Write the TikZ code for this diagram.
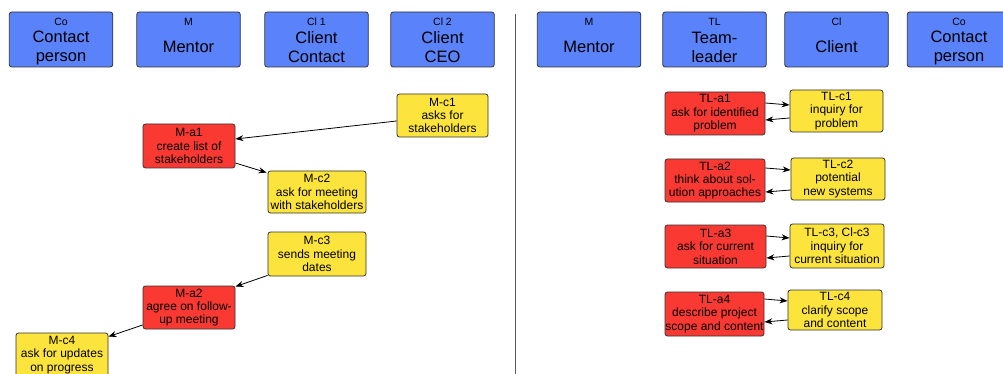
\documentclass[tikz,border=0pt]{standalone}
\usepackage{fontspec}
\setmainfont{Liberation Sans}
\usetikzlibrary{arrows.meta}
\definecolor{roleblue}{RGB}{90,130,250}
\definecolor{actred}{RGB}{250,58,50}
\definecolor{cliyellow}{RGB}{252,228,60}
\definecolor{edgegray}{RGB}{50,50,50}
\begin{document}
\begin{tikzpicture}[x=1pt,y=-1pt,
  box/.style={draw=edgegray, line width=0.8pt, rounded corners=2.5pt, inner sep=0pt,
    align=center, font=\fontsize{12}{13.4}\selectfont},
  rolebox/.style={box, fill=roleblue, minimum width=103.5pt, minimum height=55pt},
  roletag/.style={inner sep=0pt, font=\fontsize{10.5}{11}\selectfont},
  rolename/.style={inner sep=0pt, align=center, font=\fontsize{16.5}{19}\selectfont},
  act/.style={box, fill=actred},
  cli/.style={box, fill=cliyellow},
  link/.style={-{Stealth[length=8pt,width=6pt]}, line width=0.8pt, black}]
\useasboundingbox (0,0) rectangle (1003,374);
\fill[white] (0,0) rectangle (1003,374);
\clip (0,0) rectangle (1003,374);

% separator between the two process views
\draw[line width=1pt, black!65] (515,14) -- (515,374);

% ---- role headers, left view
\node[rolebox] (hCo) at (61,39.5) {};
\node[roletag] (hCoTag) at (61,22) {Co};
\node[rolename] (hCoName) at (61,47.5) {Contact\\person};

\node[rolebox] (hM) at (188.5,39.5) {};
\node[roletag] (hMTag) at (188.5,22) {M};
\node[rolename] (hMName) at (188.5,46.5) {Mentor};

\node[rolebox] (hClA) at (316.5,39.5) {};
\node[roletag] (hClATag) at (316.5,22) {Cl 1};
\node[rolename] (hClAName) at (316.5,47.5) {Client\\Contact};

\node[rolebox] (hClB) at (442.5,39.5) {};
\node[roletag] (hClBTag) at (442.5,22) {Cl 2};
\node[rolename] (hClBName) at (442.5,47.5) {Client\\CEO};

% ---- role headers, right view
\node[rolebox] (rM) at (589,39.5) {};
\node[roletag] (rMTag) at (589,22) {M};
\node[rolename] (rMName) at (589,46.5) {Mentor};

\node[rolebox] (rTL) at (714.5,39.5) {};
\node[roletag] (rTLTag) at (714.5,22) {TL};
\node[rolename] (rTLName) at (714.5,47.5) {Team-\\leader};

\node[rolebox] (rCl) at (836.5,39.5) {};
\node[roletag] (rClTag) at (836.5,22) {Cl};
\node[rolename] (rClName) at (836.5,46.5) {Client};

\node[rolebox] (rCo) at (959,39.5) {};
\node[roletag] (rCoTag) at (959,22) {Co};
\node[rolename] (rCoName) at (959,47.5) {Contact\\person};

% ---- mentor process
\node[cli, minimum width=91pt, minimum height=43pt] (Mc1) at (442.5,115.5) {M-c1\\asks for\\stakeholders};
\node[act, minimum width=92pt, minimum height=44pt] (Ma1) at (189,146) {M-a1\\create list of\\stakeholders};
\node[cli, minimum width=98pt, minimum height=42pt] (Mc2) at (317,192) {M-c2\\ask for meeting\\with stakeholders};
\node[cli, minimum width=98pt, minimum height=44pt] (Mc3) at (317,254) {M-c3\\sends meeting\\dates};
\node[act, minimum width=92pt, minimum height=43pt] (Ma2) at (189,307.5) {M-a2\\agree on follow-\\up meeting};
\node[cli, minimum width=92pt, minimum height=44pt] (Mc4) at (62,355) {M-c4\\ask for updates\\on progress};

\draw[link] ([yshift=-5.5pt]Mc1.west) -- ([yshift=7pt]Ma1.east);
\draw[link] ([yshift=-17pt]Ma1.east) -- ([xshift=-1pt,yshift=-2pt]Mc2.north west);
\draw[link] ([yshift=1pt]Mc3.south west) -- ([yshift=-1pt]Ma2.north east);
\draw[link] ([yshift=-17.5pt]Ma2.west) -- ([yshift=-4pt]Mc4.north east);

% ---- team-leader process
\node[act, minimum width=100pt, minimum height=43pt] (TLa1) at (715,113.5) {TL-a1\\ask for identified\\problem};
\node[cli, minimum width=93pt, minimum height=42pt] (TLc1) at (836.5,111) {TL-c1\\inquiry for\\problem};
\node[act, minimum width=100pt, minimum height=43pt] (TLa2) at (715,180.5) {TL-a2\\think about sol-\\ution approaches};
\node[cli, minimum width=94pt, minimum height=42pt] (TLc2) at (838,179) {TL-c2\\potential\\new systems};
\node[act, minimum width=101pt, minimum height=43pt] (TLa3) at (715.5,246.5) {TL-a3\\ask for current\\situation};
\node[cli, minimum width=94pt, minimum height=44pt] (TLc3) at (837,246) {TL-c3, Cl-c3\\inquiry for\\current situation};
\node[act, minimum width=99pt, minimum height=44pt] (TLa4) at (714.5,314) {TL-a4\\describe project\\scope and content};
\node[cli, minimum width=94pt, minimum height=40pt] (TLc4) at (835,310) {TL-c4\\clarify scope\\and content};

\draw[link] ([yshift=10.5pt]TLa1.east) -- ([yshift=6pt]TLc1.west);
\draw[link] ([yshift=-7pt]TLc1.west) -- ([yshift=-6.5pt]TLa1.east);
\draw[link] ([yshift=12.5pt]TLa2.east) -- ([yshift=9pt]TLc2.west);
\draw[link] ([yshift=-11pt]TLc2.west) -- ([yshift=-11.5pt]TLa2.east);
\draw[link] ([yshift=10.5pt]TLa3.east) -- ([yshift=8pt]TLc3.west);
\draw[link] ([yshift=-10pt]TLc3.west) -- ([yshift=-11.5pt]TLa3.east);
\draw[link] ([yshift=15pt]TLa4.east) -- ([yshift=9pt]TLc4.west);
\draw[link] ([yshift=-10pt]TLc4.west) -- ([yshift=-8pt]TLa4.east);
\end{tikzpicture}
\end{document}
